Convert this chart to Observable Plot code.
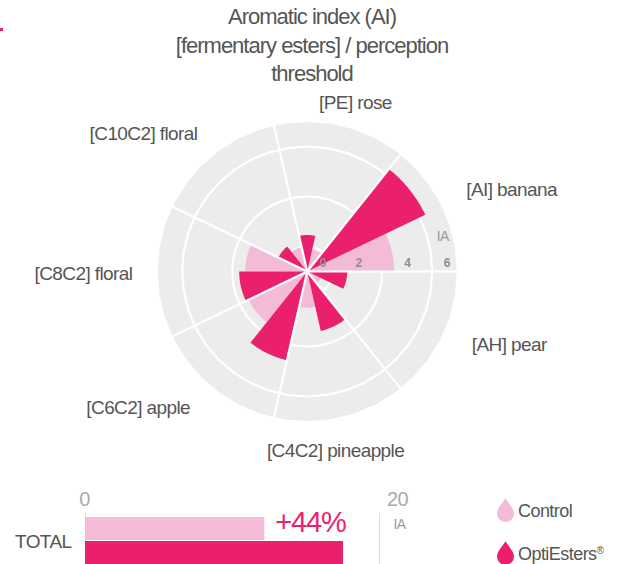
<!DOCTYPE html>
<html><head><meta charset="utf-8">
<script src="https://cdn.jsdelivr.net/npm/d3@7"></script>
<script src="https://cdn.jsdelivr.net/npm/@observablehq/plot@0.6"></script>
<style>
html,body{margin:0;padding:0;background:#fff;width:618px;height:564px;overflow:hidden;font-family:"Liberation Sans",Arial,sans-serif;color:#555}
#root{position:relative;width:618px;height:564px}
#title{height:90px;box-sizing:border-box;padding-top:3px;text-align:center;font-size:22px;line-height:28.5px;letter-spacing:-1px;color:#555;width:624px}
svg{display:block}
#root svg text{letter-spacing:-.6px}
#root svg .tight text{letter-spacing:-1.2px}
#legend{position:absolute;left:497px;top:498px;font-size:18px;line-height:24px;color:#555}
.lg{position:absolute;left:0;white-space:nowrap;display:flex;align-items:center;gap:4px;letter-spacing:-.55px}
.lg span{position:relative;top:1px}
.lg sup{font-size:10px;line-height:0;vertical-align:6px}
#tick{position:absolute;left:0;top:28px;width:3px;height:3px;background:#ea1f6e}
</style></head><body>
<div id="root">
<div id="tick"></div>
<div id="title">Aromatic index (AI)<br>[fermentary esters] / perception<br>threshold</div>
<div id="polar"></div>
<div id="total"></div>
<div id="legend"></div>
</div>
<script>
const categories = ["[PE] rose","[AI] banana","[AH] pear","[C4C2] pineapple","[C6C2] apple","[C8C2] floral","[C10C2] floral"];
const controlValues = [0.9,3.48,0.6,1.45,2.6,2.48,1.0];
const optiValues = [1.46,5.24,1.6,2.44,3.64,2.72,1.28];
const seriesNames = ["Control","OptiEsters®"];
const seriesColors = ["#f4bbd8","#ea1f6e"];
const rings = [1,3,5];
const tickLabels = ["0","2","4","6"];
const tickLabelPos = [0.62,2.05,4,5.58];
const labelRadius = [7.0,8.8,8.6,7.25,8.7,8.95,8.55];
const labelAngle = [16,68.3,110,171,231,269.5,310];
const totals = [12.2,17.55];
const totalChange = "+44%";

const N = categories.length, step = 360/N, firstSpoke = -step/4;
const pt = (a,r)=>({x:r*Math.sin(a*Math.PI/180), y:r*Math.cos(a*Math.PI/180)});
function arc(a0,a1,r){const n=40,p=[];for(let i=0;i<=n;i++)p.push(pt(a0+(a1-a0)*i/n,r));return p;}
const wedges=[];
const addWedges=(series,values,offset)=>categories.forEach((c,i)=>{
  const a0=firstSpoke+i*step+offset;
  [{x:0,y:0},...arc(a0,a0+step/2,values[i]),{x:0,y:0}].forEach(p=>wedges.push({...p,series,key:series+c}));
});
addWedges(seriesNames[0],controlValues,step/2);
addWedges(seriesNames[1],optiValues,0);
const spokes=categories.map((c,i)=>{const e=pt(firstSpoke+i*step,5.98);return {x1:0,y1:0,x2:e.x,y2:e.y};});
const circle=r=>arc(0,360,r);
const color={domain:seriesNames,range:seriesColors};
const u=25, cx=306.7, cy=181;
const font={fontFamily:"Liberation Sans, Arial, sans-serif"};
const polar=Plot.plot({
  width:618,height:385,margin:0,style:font,
  x:{axis:null,domain:[-cx/u,(618-cx)/u],range:[0,618]},
  y:{axis:null,domain:[cy/u,(cy-385)/u],range:[0,385]},
  color,
  marks:[
    Plot.line(circle(5.98),{x:"x",y:"y",fill:"#ececec",stroke:"none"}),
    rings.map(r=>Plot.line(circle(r),{x:"x",y:"y",stroke:"#fff",strokeWidth:2.2})),
    Plot.line(wedges,{x:"x",y:"y",z:"key",fill:"series",stroke:"none"}),
    Plot.link(spokes,{x1:"x1",y1:"y1",x2:"x2",y2:"y2",stroke:"#fff",strokeWidth:2.2}),
    Plot.text(tickLabels,{x:(d,i)=>tickLabelPos[i],y:()=>0.33,text:d=>d,fill:"#8f8f8f",fontSize:12,fontWeight:"bold"}),
    Plot.text(["IA"],{x:()=>5.42,y:()=>1.4,text:d=>d,fill:"#999",fontSize:14}),
    Plot.text(categories,{x:(d,i)=>pt(labelAngle[i],labelRadius[i]).x,y:(d,i)=>pt(labelAngle[i],labelRadius[i]).y,text:d=>d,fill:"#555",fontSize:19})
  ]
});
document.getElementById("polar").append(polar);

const rows=seriesNames.map((s,i)=>({series:s,value:totals[i]}));
const total=Plot.plot({
  width:618,height:89,marginTop:38,marginBottom:0,marginLeft:85,marginRight:239,style:font,
  x:{axis:null,domain:[0,20]},
  y:{axis:null,domain:seriesNames,padding:0.06,align:.9},
  color,
  marks:[
    Plot.ruleX([0,20],{stroke:"#ddd",strokeWidth:1}),
    Plot.barX(rows,{x:"value",y:"series",fill:"series"}),
    Plot.text(["TOTAL"],{x:()=>0,y:()=>seriesNames[0],dx:-14,dy:13,textAnchor:"end",text:d=>d,fontSize:19,fill:"#555"}),
    Plot.text([totalChange],{x:()=>totals[1],y:()=>seriesNames[0],dx:2,dy:-6,textAnchor:"end",text:d=>d,fontSize:29,fill:"#ea1f6e",className:"tight"}),
    Plot.text(["0"],{x:()=>0,y:()=>seriesNames[0],dx:-1,dy:-29,text:d=>d,fontSize:20,fill:"#aaa"}),
    Plot.text(["20"],{x:()=>20,y:()=>seriesNames[0],dx:18,dy:-29,text:d=>d,fontSize:20,fill:"#aaa"}),
    Plot.text(["IA"],{x:()=>20,y:()=>seriesNames[0],dx:20,dy:-4,text:d=>d,fontSize:14,fill:"#999"})
  ]
});
document.getElementById("total").append(total);

const dropPath="M8.5 0C6 5 0 10 0 15.5A8.5 8.5 0 0 0 17 15.5C17 10 11 5 8.5 0Z";
const lg=document.getElementById("legend");
seriesNames.forEach((s,i)=>{
  const d=document.createElement("div");d.className="lg";d.style.top=(i*43)+"px";
  const mark=s.endsWith("®")?s.slice(0,-1)+"<sup>®</sup>":s;
  d.innerHTML=`<svg width="17" height="24" viewBox="0 0 17 24"><path d="${dropPath}" fill="${seriesColors[i]}"/></svg><span>${mark}</span>`;
  lg.append(d);
});
</script>
</body></html>
